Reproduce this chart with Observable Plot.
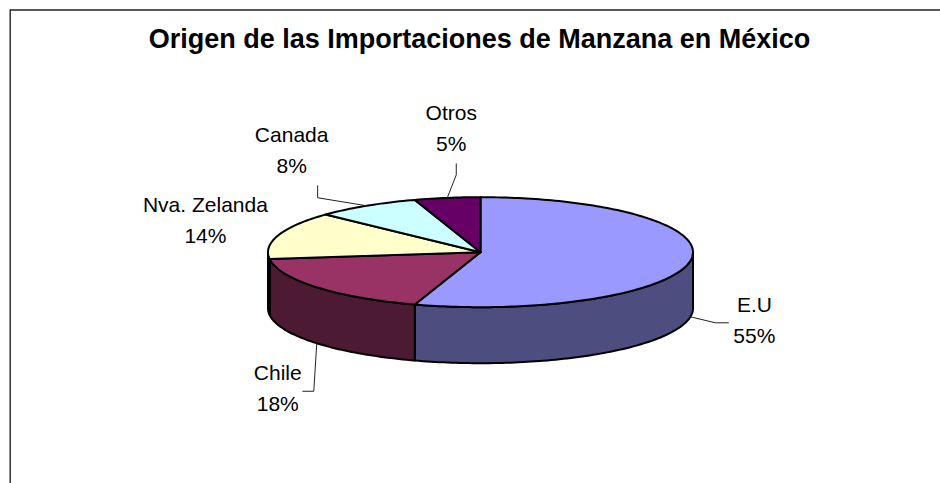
<!DOCTYPE html>
<html><head><meta charset="utf-8">
<script src="https://cdn.jsdelivr.net/npm/d3@7"></script>
<script src="https://cdn.jsdelivr.net/npm/@observablehq/plot@0.6"></script>
<style>html,body{margin:0;padding:0;background:#fff}svg{display:block}</style>
</head><body><div id="chart"></div>
<script>
const categories = ["E.U","Chile","Nva. Zelanda","Canada","Otros"];
const shares = [55,18,14,8,5];
const topColors = ["#9999FF","#993366","#FFFFCC","#CCFFFF","#660066"];
const sideColors = ["#4D4D80","#4D1A33","#808066","#668080","#330033"];
const titleText = "Origen de las Importaciones de Manzana en México";
// label layout: offset of label centre from the slice's rim anchor; leader elbows
const labelOffset = [[64,4],[-39,46],[-73,-14],[-75,-55],[4,-69]];
const elbows = {0:[[25,6],[38,6]],1:[[-3,48],[-14,48]],3:[[-49,-8],[-49,-20]],4:[[9,-23],[9,-34]]};
const cx=480, cy=251.7, rx=212.5, ry=55, depth=56;
const total = d3.sum(shares);
const pt=(a,dz=0)=>[cx+rx*Math.sin(a), cy-ry*Math.cos(a)+dz];
let acc=0;
const slices = shares.map((v,i)=>{const a0=acc/total*2*Math.PI; acc+=v; const a1=acc/total*2*Math.PI; return {i,a0,a1,mid:(a0+a1)/2,name:categories[i],v};});
const arc=(a0,a1,dz=0)=>{const n=Math.max(2,Math.ceil((a1-a0)/0.02)); return d3.range(n+1).map(k=>pt(a0+(a1-a0)*k/n,dz));};
const topRows=[], sideRows=[];
slices.forEach(s=>{
  [[cx,cy],...arc(s.a0,s.a1),[cx,cy]].forEach(p=>topRows.push({x:p[0],y:p[1],k:s.i}));
  const lo=Math.max(s.a0,Math.PI/2), hi=Math.min(s.a1,3*Math.PI/2);
  if(hi>lo){ const f=arc(lo,hi); const b=arc(lo,hi,depth).reverse(); [...f,...b,f[0]].forEach(p=>sideRows.push({x:p[0],y:p[1],k:s.i})); }
});
const leaderRows=[];
slices.forEach((s,i)=>{ if(!elbows[i]) return; const a=pt(s.mid,i<2?depth:0); [[0,0],...elbows[i]].forEach(d=>leaderRows.push({x:a[0]+d[0],y:a[1]+d[1],k:i})); });
const labelRows=slices.map((s,i)=>{const a=pt(s.mid,(i<2?depth:0));return {x:a[0]+labelOffset[i][0],y:a[1]+labelOffset[i][1],name:s.name,pct:s.v+"%"};});
const frameRows=[{x:9.7,y:483},{x:9.7,y:9.5},{x:940,y:9.5}];
const plot=Plot.plot({
  width:940,height:483,margin:0,
  x:{domain:[0,940],range:[0,940],axis:null},
  y:{domain:[0,483],range:[0,483],axis:null},
  marks:[
    Plot.line(frameRows,{x:"x",y:"y",stroke:"#222",strokeWidth:1.4}),
    Plot.line(sideRows,{x:"x",y:"y",z:"k",fill:d=>sideColors[d.k],stroke:"#000",strokeWidth:2,curve:"linear"}),
    Plot.line(topRows,{x:"x",y:"y",z:"k",fill:d=>topColors[d.k],stroke:"#000",strokeWidth:2,curve:"linear"}),
    Plot.line(leaderRows,{x:"x",y:"y",z:"k",stroke:"#222",strokeWidth:1,curve:"linear"}),
    Plot.text(labelRows,{x:"x",y:d=>d.y-15.5,text:"name",fontFamily:"Liberation Sans",fontSize:21,fill:"#000"}),
    Plot.text(labelRows,{x:"x",y:d=>d.y+15.5,text:"pct",fontFamily:"Liberation Sans",fontSize:21,fill:"#000"}),
    Plot.text([titleText],{x:()=>479,y:()=>39,text:d=>d,fontFamily:"Liberation Sans",fontSize:27,fontWeight:"bold",fill:"#000"})
  ]
});
document.getElementById("chart").append(plot);
</script></body></html>
